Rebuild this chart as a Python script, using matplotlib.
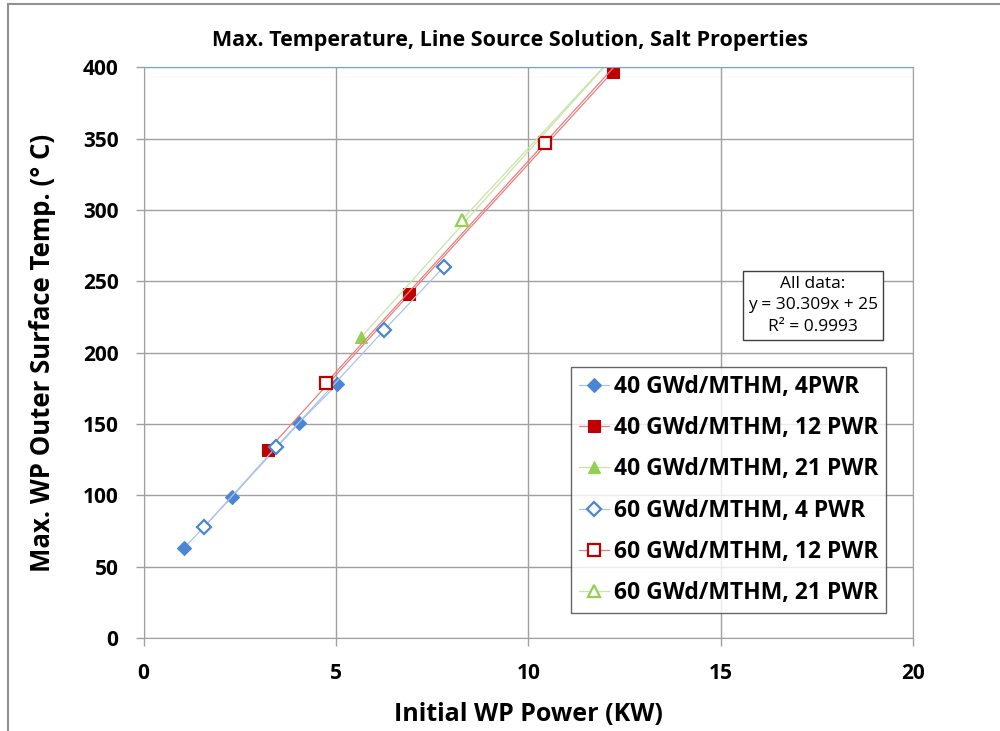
import matplotlib.pyplot as plt
from matplotlib.lines import Line2D

# data (points beyond 400 C are clipped by the axes)
labels = ["40 GWd/MTHM, 4PWR", "40 GWd/MTHM, 12 PWR", "40 GWd/MTHM, 21 PWR",
          "60 GWd/MTHM, 4 PWR", "60 GWd/MTHM, 12 PWR", "60 GWd/MTHM, 21 PWR"]

x_40_4 = [1.05, 2.3, 4.05, 5.04]
y_40_4 = [63, 99, 151, 178]
x_40_12 = [3.24, 6.91, 12.2]
y_40_12 = [132, 241, 397]
x_40_21 = [5.66, 12.9, 20.0]
y_40_21 = [211, 428, 640]
x_60_4 = [1.58, 3.45, 6.26, 7.8]
y_60_4 = [78, 134, 216, 260]
x_60_12 = [4.75, 10.43, 15.6]
y_60_12 = [179, 347, 500]
x_60_21 = [8.27, 12.4, 18.6]
y_60_21 = [293, 413, 592]

BLUE = '#4a86d4'
RED = '#c00000'
GREEN = '#92d050'
FONT = 'Open Sans'

fig = plt.figure(figsize=(10, 7.31), dpi=100)
ax = fig.add_axes([0.1435, 0.127, 0.7695, 0.781])

series = [
    (x_40_4, y_40_4, BLUE, 'D', True, '#a9c4ea'),
    (x_40_12, y_40_12, RED, 's', True, '#e88080'),
    (x_40_21, y_40_21, GREEN, '^', True, '#c6e5a6'),
    (x_60_4, y_60_4, BLUE, 'D', False, '#a9c4ea'),
    (x_60_12, y_60_12, RED, 's', False, '#e88080'),
    (x_60_21, y_60_21, GREEN, '^', False, '#c6e5a6'),
]

for (xs, ys, col, mk, filled, lcol), lab in zip(series, labels):
    ax.plot(xs, ys, color=lcol, lw=0.9, marker=mk,
            markersize=7 if mk == 'D' else 8,
            markerfacecolor=col if filled else 'white',
            markeredgecolor=col, markeredgewidth=1.6 if not filled else 0.8,
            label=lab, clip_on=True)

ax.set_xlim(0, 20)
ax.set_ylim(0, 400)
ax.set_xticks([0, 5, 10, 15, 20])
ax.set_yticks(range(0, 401, 50))
ax.grid(True, color='#a0a0a0', lw=1)
ax.set_axisbelow(True)
ax.tick_params(length=6, width=1, color='#a0a0a0', labelsize=15, pad=12)
for t in ax.get_xticklabels() + ax.get_yticklabels():
    t.set_fontfamily(FONT)
    t.set_fontweight('bold')
for s in ['left', 'right', 'bottom']:
    ax.spines[s].set_color('#a0a0a0')
ax.spines['top'].set_color('#7aa3d6')

ax.set_xlabel("Initial WP Power (KW)", fontsize=18, fontweight='bold',
              fontfamily=FONT, labelpad=13)
ax.set_ylabel("Max. WP Outer Surface Temp. (° C)", fontsize=18.5,
              fontweight='bold', fontfamily=FONT, labelpad=19)
ax.set_title("Max. Temperature, Line Source Solution, Salt Properties",
             fontsize=15.5, fontweight='bold', fontfamily=FONT, pad=15,
             x=0.476)

leg = ax.legend(loc='lower right', bbox_to_anchor=(0.965, 0.044),
                prop={'family': FONT, 'weight': 'bold', 'size': 16.5},
                frameon=True, fancybox=False, edgecolor='#404040',
                handlelength=1.3, labelspacing=0.75, borderpad=0.35,
                handletextpad=0.2, borderaxespad=0)
leg.get_frame().set_linewidth(1.0)

ax.text(0.870, 0.583, "All data:\ny = 30.309x + 25\nR² = 0.9993",
        transform=ax.transAxes, ha='center', va='center', fontsize=12.5,
        fontfamily=FONT, linespacing=1.45,
        bbox=dict(boxstyle='square,pad=0.3', fc='white', ec='#404040', lw=1))

# chart area border (top and left edges only)
fig.add_artist(Line2D([0.008, 1.0], [0.995, 0.995], color='#909090', lw=1.5,
                      transform=fig.transFigure))
fig.add_artist(Line2D([0.008, 0.008], [0.0, 0.995], color='#909090', lw=1.5,
                      transform=fig.transFigure))

plt.savefig("out.png", dpi=100)
